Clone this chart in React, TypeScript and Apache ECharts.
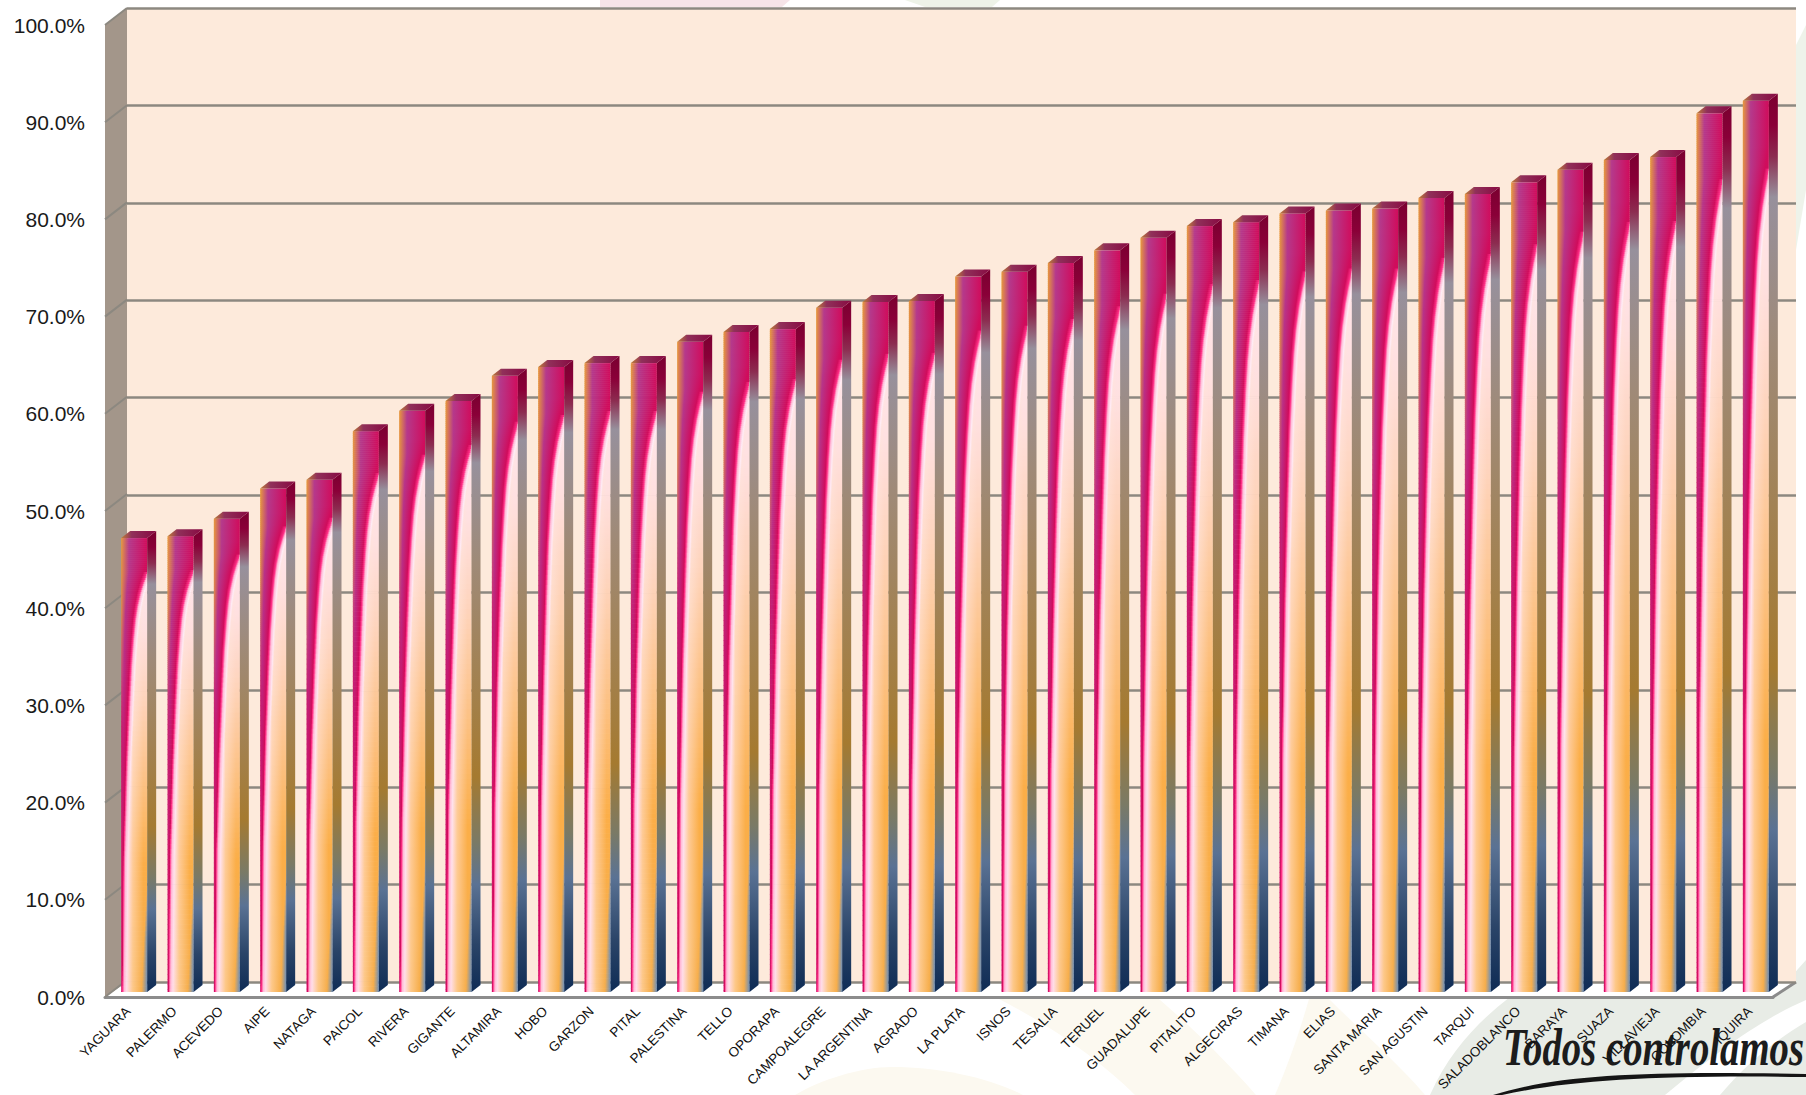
import React, { useEffect, useRef } from "react";
import * as echarts from "echarts";

const categories = ["YAGUARA","PALERMO","ACEVEDO","AIPE","NATAGA","PAICOL","RIVERA","GIGANTE","ALTAMIRA","HOBO","GARZON","PITAL","PALESTINA","TELLO","OPORAPA","CAMPOALEGRE","LA ARGENTINA","AGRADO","LA PLATA","ISNOS","TESALIA","TERUEL","GUADALUPE","PITALITO","ALGECIRAS","TIMANA","ELIAS","SANTA MARIA","SAN AGUSTIN","TARQUI","SALADOBLANCO","BARAYA","SUAZA","VILLAVIEJA","COLOMBIA","IQUIRA"];
const values = [46.7,46.9,48.7,51.8,52.7,57.7,59.8,60.8,63.4,64.3,64.7,64.7,66.9,67.9,68.2,70.4,71.0,71.1,73.6,74.1,75.0,76.3,77.6,78.8,79.2,80.1,80.4,80.6,81.7,82.1,83.3,84.6,85.6,85.9,90.4,91.7];
const tickValues = [0,10,20,30,40,50,60,70,80,90,100];

type RGB = [number, number, number];
const hex = (h: string): RGB => [parseInt(h.slice(1,3),16),parseInt(h.slice(3,5),16),parseInt(h.slice(5,7),16)];
const css = (c: RGB) => `rgb(${Math.round(c[0])},${Math.round(c[1])},${Math.round(c[2])})`;
const mix = (a: RGB, b: RGB, k: number): RGB => [a[0]+(b[0]-a[0])*k,a[1]+(b[1]-a[1])*k,a[2]+(b[2]-a[2])*k];
const ramp = (knots: [number,string][], t: number): RGB => {
  if (t <= knots[0][0]) return hex(knots[0][1]);
  for (let i = 1; i < knots.length; i++) {
    if (t <= knots[i][0]) {
      const k = (t-knots[i-1][0])/(knots[i][0]-knots[i-1][0]);
      return mix(hex(knots[i-1][1]),hex(knots[i][1]),k);
    }
  }
  return hex(knots[knots.length-1][1]);
};
const curveKnots = [[0,1.5],[0.07,1.04],[0.085,0.93],[0.1,0.83],[0.12,0.72],[0.15,0.6],[0.18,0.52],[0.22,0.45],[0.28,0.37],[0.36,0.3],[0.5,0.2],[0.7,0.1],[1,0.05]];
const curveAt = (t: number) => {
  for (let i = 1; i < curveKnots.length; i++) {
    if (t <= curveKnots[i][0]) {
      const k = (t-curveKnots[i-1][0])/(curveKnots[i][0]-curveKnots[i-1][0]);
      return curveKnots[i-1][1]+(curveKnots[i][1]-curveKnots[i-1][1])*k;
    }
  }
  return 0.05;
};
const leftRamp: [number,string][] = [[0,"#e89a3c"],[0.16,"#e08a48"],[0.3,"#c8507a"],[0.42,"#c81c6c"],[1,"#d81a72"]];
const midRamp: [number,string][] = [[0,"#b53a8c"],[0.3,"#bb2c84"],[0.5,"#c41a70"],[1,"#d01a70"]];
const rightRamp: [number,string][] = [[0,"#ffe8f4"],[0.2,"#ffe0e0"],[0.35,"#fed4bc"],[0.55,"#fcc080"],[0.72,"#fbae48"],[1,"#f6ae4c"]];
const paleRamp: [number,string][] = [[0,"#fff0f8"],[0.4,"#ffe6f0"],[1,"#ffdde8"]];
const midOrange: [number,string][] = [[0,"#ffe8f2"],[0.4,"#ffdcc8"],[0.7,"#fecb98"],[1,"#fdc888"]];

const faceFill = (t: number) => {
  const c = curveAt(t);
  const stops: {offset:number;color:string}[] = [];
  const push = (o: number, col: RGB) => { if (o < 1) stops.push({ offset: o, color: css(col) }); };
  const crimson = hex("#d00c5c");
  push(0, ramp(leftRamp, t));
  if (c > 0.12) push(Math.min(0.3*c, 0.3), ramp(midRamp, t));
  push(0.85*c, crimson);
  push(c, hex("#ff2f86"));
  push(c+0.07, hex("#ffbcd8"));
  const pale = ramp(paleRamp, t);
  push(c+0.16, pale);
  const right = ramp(rightRamp, t);
  push(Math.max(c+0.22, 0.45), ramp(midOrange, t));
  let endCol = c >= 1 ? crimson : right;
  if (t > 0.76) {
    const w = (t-0.76)/0.24*0.2;
    push(Math.min(0.85, 1-w-0.02), right);
    push(1-w-0.02, right);
    endCol = mix(hex("#ffb050"), hex("#6f90b8"), Math.min(1, (t-0.76)/0.12));
  } else if (c < 1) {
    push(Math.max(c+0.32, 0.85), right);
  }
  stops.push({ offset: 1, color: css(endCol) });
  return { type: "linear", x: 0, y: 0, x2: 1, y2: 0, colorStops: stops };
};
const sideStops = [
  { offset: 0, color: "#7a0030" },{ offset: 0.035, color: "#8a0038" },{ offset: 0.07, color: "#8c2c50" },
  { offset: 0.115, color: "#97909c" },{ offset: 0.28, color: "#9f8a78" },{ offset: 0.64, color: "#a57a30" },
  { offset: 0.75, color: "#7a7a66" },{ offset: 0.82, color: "#5a7294" },{ offset: 0.92, color: "#2a4468" },{ offset: 1, color: "#0f2c55" },
];
const topStops = [{ offset: 0, color: "#c08038" },{ offset: 0.3, color: "#90305a" },{ offset: 1, color: "#880a42" }];

const renderBar = (params: any, api: any) => {
  const idx = api.value(0);
  const v = api.value(1);
  const [cx, yTop0] = api.coord([idx, v]);
  const [, yBase0] = api.coord([idx, 0]);
  const x0 = cx - 7, w = 26, yTop = yTop0 - 5, yBase = yBase0 - 5, dx = 9, dy = 7;
  const x1 = x0 + w, h = yBase - yTop;
  const children: any[] = [];
  let y = 0;
  while (y < h) {
    const step = y/h < 0.3 ? 2 : 5;
    const t = (y + step/2)/h;
    children.push({ type: "rect", shape: { x: x0, y: yTop+y, width: w, height: Math.min(step+0.6, h-y) }, style: { fill: faceFill(t) } });
    y += step;
  }
  children.push({ type: "polygon", shape: { points: [[x1,yTop],[x1+dx,yTop-dy],[x1+dx,yBase-dy],[x1,yBase]] },
    style: { fill: { type: "linear", x: 0, y: 0, x2: 0, y2: 1, colorStops: sideStops } } });
  children.push({ type: "polygon", shape: { points: [[x0,yTop],[x0+dx,yTop-dy],[x1+dx,yTop-dy],[x1,yTop]] },
    style: { fill: { type: "linear", x: 0, y: 0, x2: 1, y2: 0, colorStops: topStops } } });
  return { type: "group", children };
};
const renderTick = (params: any, api: any) => {
  const [, y] = api.coord([0, api.value(0)]);
  const x = params.coordSys.x;
  return { type: "line", shape: { x1: x, y1: y, x2: x+22, y2: y-17 }, style: { stroke: "#8c8880", lineWidth: 2 } };
};

const shape = (name: string, d: string) => echarts.graphic.registerShape(name, echarts.graphic.extendPath(d as any, {}) as any);
shape("wmArch", "M795 1095 C820 1080 860 1067 892 1067 C940 1067 990 1078 1023 1095 Z");
shape("wmBandA", "M999 999 L1159 999 C1195 1030 1230 1065 1256 1095 L1135 1095 C1100 1060 1050 1025 999 999 Z");
shape("wmBandB", "M1309 999 L1329 999 C1360 1030 1400 1065 1425 1095 L1275 1095 C1290 1060 1300 1030 1309 999 Z");
shape("wmGray", "M1430 1095 C1450 1050 1480 1020 1510 997 L1773 997 L1806 960 L1806 1095 Z");
shape("wmWedge", "M1665 1095 C1720 1050 1760 1020 1806 1000 L1806 1022 C1775 1040 1745 1065 1720 1095 Z");
shape("swoosh", "M1493 1095 C1560 1074 1650 1071 1806 1074 L1806 1077 C1660 1075 1570 1080 1502 1095 Z");

export default function App() {
  const ref = useRef<HTMLDivElement>(null);
  useEffect(() => {
    const chart = echarts.init(ref.current!, null, { renderer: "svg" });
    const wm = (type: string, fill: string, z = -10) => ({ type, x: 0, y: 0, z, silent: true, style: { fill } });
    chart.setOption({
      animation: false,
      backgroundColor: "#ffffff",
      grid: [
        { left: 105, top: 25, width: 1668, height: 972, show: false },
        { left: 127, top: 8, width: 1669, height: 974, show: true, backgroundColor: "#fdeadb", borderWidth: 0 },
      ],
      xAxis: [
        { type: "category", gridIndex: 0, data: categories,
          axisLine: { show: true, lineStyle: { color: "#8c8c8c", width: 3 } }, axisTick: { show: false },
          axisLabel: { interval: 0, rotate: 45, fontSize: 13.5, margin: 12, color: "#111111", fontFamily: "Liberation Sans" } },
        { type: "value", gridIndex: 1, min: 0, max: 1, show: false },
      ],
      yAxis: [
        { type: "value", gridIndex: 0, min: 0, max: 100, interval: 10,
          axisLine: { show: false }, axisTick: { show: false }, splitLine: { show: false },
          axisLabel: { fontSize: 21, margin: 20, color: "#1a1a1a", fontFamily: "Liberation Sans", formatter: (v: number) => v.toFixed(1) + "%" } },
        { type: "value", gridIndex: 1, min: 0, max: 100, interval: 10,
          axisLine: { show: false }, axisTick: { show: false }, axisLabel: { show: false },
          splitLine: { show: true, lineStyle: { color: "#8c8880", width: 2.5 } } },
      ],
      graphic: { elements: [
        { type: "polygon", z: -10, silent: true, shape: { points: [[600,0],[790,0],[782,7],[600,7]] }, style: { fill: "#f6e4e8" } },
        { type: "polygon", z: -10, silent: true, shape: { points: [[905,0],[1000,0],[992,7],[925,7]] }, style: { fill: "#eef3e8" } },
        { type: "polygon", z: -10, silent: true, shape: { points: [[1796,45],[1806,25],[1806,190],[1796,250]] }, style: { fill: "#eef3ea" } },
        wm("wmArch", "#fcf9f0"), wm("wmBandA", "#fcf9f0"), wm("wmBandB", "#fcf9f0"),
        wm("wmGray", "#e8ece6"), wm("wmWedge", "#ffffff", -9),
        { type: "polygon", z: -3, silent: true, shape: { points: [[105,997],[127,982],[1796,982],[1773,997]] }, style: { fill: "#ffffff" } },
        { type: "line", z: -2, silent: true, shape: { x1: 1773, y1: 997, x2: 1796, y2: 982 }, style: { stroke: "#8b8b8b", lineWidth: 3 } },
        { type: "polygon", z: -2, silent: true, shape: { points: [[105,25],[127,8],[127,982],[105,997]] }, style: { fill: "#a3968a" } },
        { type: "text", z: -4, silent: true, x: 1503, y: 1073, scaleX: 0.745,
          style: { text: "Todos controlamos", font: 'italic bold 52px "Liberation Serif"', fill: "#1c1c1c", verticalAlign: "bottom", align: "left" } },
        wm("swoosh", "#151515", -4),
      ] },
      series: [
        { type: "custom", name: "depth ticks", xAxisIndex: 0, yAxisIndex: 0, z: 1, clip: false, silent: true,
          renderItem: renderTick, encode: { y: 0 }, data: tickValues.map((v) => [v]) },
        { type: "custom", name: "Cobertura", xAxisIndex: 0, yAxisIndex: 0, z: 3, clip: false, silent: true,
          renderItem: renderBar, encode: { x: 0, y: 1 }, data: values.map((v, i) => [i, v]) },
      ],
    });
    return () => chart.dispose();
  }, []);
  return <div ref={ref} style={{ position: "fixed", left: 0, top: 0, width: 1806, height: 1095, overflow: "hidden" }} />;
}
